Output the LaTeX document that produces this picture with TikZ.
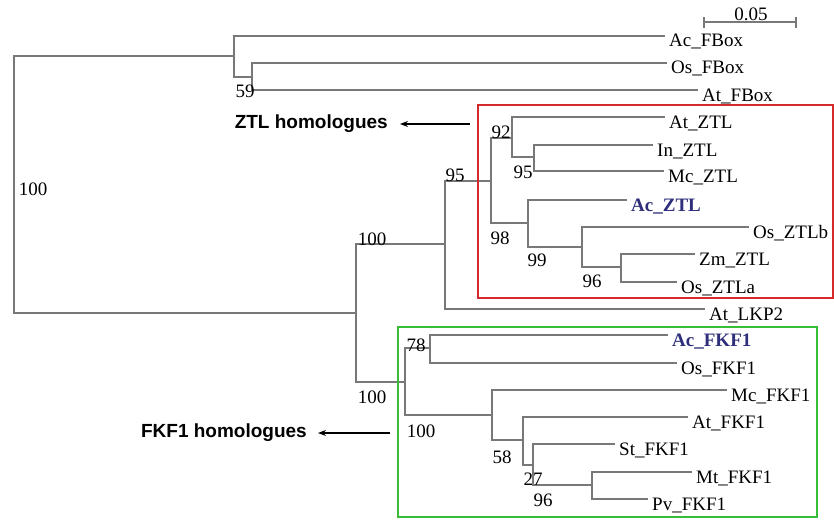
\documentclass[tikz,border=0pt]{standalone}
\usepackage{fontspec}
\setmainfont{Liberation Serif}
\newfontfamily\headfont{Liberation Sans}
\usetikzlibrary{arrows.meta}
\definecolor{branchgray}{rgb}{0.47,0.47,0.47}
\definecolor{boxred}{rgb}{0.84,0.16,0.16}
\definecolor{boxgreen}{rgb}{0.22,0.74,0.22}
\definecolor{acblue}{rgb}{0.18,0.18,0.48}

\begin{document}
\begin{tikzpicture}[x=1pt, y=-1pt, >={Stealth[length=8pt, width=6pt]},
  branch/.style={draw=branchgray, line width=1.1pt},
  leaf/.style={anchor=base west, inner sep=0pt, xshift=4pt, yshift=-11pt, font=\fontsize{19}{21}\selectfont},
  acleaf/.style={leaf, text=acblue, font=\bfseries\fontsize{19}{21}\selectfont},
  boot/.style={inner sep=0pt, font=\fontsize{19}{21}\selectfont},
  clade/.style={inner sep=0pt, font=\headfont\bfseries\fontsize{19}{21}\selectfont}]
  \useasboundingbox (0,0) rectangle (834,519);
  % internal nodes
  \coordinate (root) at (14,185);
  \coordinate (nA) at (234,56);
  \coordinate (nB) at (252,77);
  \coordinate (nC) at (356,313);
  \coordinate (nD) at (445,244);
  \coordinate (nE) at (491,181);
  \coordinate (nF) at (512,138);
  \coordinate (nG) at (534,157);
  \coordinate (nH) at (528,223);
  \coordinate (nI) at (582,247);
  \coordinate (nJ) at (621,267);
  \coordinate (nK) at (405,382);
  \coordinate (nL) at (430,348);
  \coordinate (nM) at (492,415);
  \coordinate (nN) at (523,440);
  \coordinate (nO) at (533,465);
  \coordinate (nP) at (592,485);
  % leaf ends
  \coordinate (AcFBox) at (665,36);
  \coordinate (OsFBox) at (667,63);
  \coordinate (AtFBox) at (698,90);
  \coordinate (AtZTL) at (665,117);
  \coordinate (InZTL) at (653,145);
  \coordinate (McZTL) at (664,171);
  \coordinate (AcZTL) at (627,200);
  \coordinate (OsZTLb) at (749,227);
  \coordinate (ZmZTL) at (695,254);
  \coordinate (OsZTLa) at (677,282);
  \coordinate (AtLKP2) at (705,309);
  \coordinate (AcFKF1) at (668,335);
  \coordinate (OsFKF1) at (677,363);
  \coordinate (McFKF1) at (727,390);
  \coordinate (AtFKF1) at (688,417);
  \coordinate (StFKF1) at (615,444);
  \coordinate (MtFKF1) at (692,472);
  \coordinate (PvFKF1) at (648,499);
  % F-box outgroup
  \draw[branch] (root) |- (nA);
  \draw[branch] (nA) |- (AcFBox);
  \draw[branch] (nA) |- (nB);
  \draw[branch] (nB) |- (OsFBox);
  \draw[branch] (nB) |- (AtFBox);
  % ZTL / LKP2 clade
  \draw[branch] (root) |- (nC);
  \draw[branch] (nC) |- (nD);
  \draw[branch] (nD) |- (nE);
  \draw[branch] (nD) |- (AtLKP2);
  \draw[branch] (nE) |- (nF);
  \draw[branch] (nF) |- (AtZTL);
  \draw[branch] (nF) |- (nG);
  \draw[branch] (nG) |- (InZTL);
  \draw[branch] (nG) |- (McZTL);
  \draw[branch] (nE) |- (nH);
  \draw[branch] (nH) |- (AcZTL);
  \draw[branch] (nH) |- (nI);
  \draw[branch] (nI) |- (OsZTLb);
  \draw[branch] (nI) |- (nJ);
  \draw[branch] (nJ) |- (ZmZTL);
  \draw[branch] (nJ) |- (OsZTLa);
  % FKF1 clade
  \draw[branch] (nC) |- (nK);
  \draw[branch] (nK) |- (nL);
  \draw[branch] (nL) |- (AcFKF1);
  \draw[branch] (nL) |- (OsFKF1);
  \draw[branch] (nK) |- (nM);
  \draw[branch] (nM) |- (McFKF1);
  \draw[branch] (nM) |- (nN);
  \draw[branch] (nN) |- (AtFKF1);
  \draw[branch] (nN) |- (nO);
  \draw[branch] (nO) |- (StFKF1);
  \draw[branch] (nO) |- (nP);
  \draw[branch] (nP) |- (MtFKF1);
  \draw[branch] (nP) |- (PvFKF1);
  % leaf names
  \node[leaf] (tAcFBox) at (AcFBox) {Ac\_FBox};
  \node[leaf] (tOsFBox) at (OsFBox) {Os\_FBox};
  \node[leaf] (tAtFBox) at (AtFBox) {At\_FBox};
  \node[leaf] (tAtZTL) at (AtZTL) {At\_ZTL};
  \node[leaf] (tInZTL) at (InZTL) {In\_ZTL};
  \node[leaf] (tMcZTL) at (McZTL) {Mc\_ZTL};
  \node[acleaf] (tAcZTL) at (AcZTL) {Ac\_ZTL};
  \node[leaf] (tOsZTLb) at (OsZTLb) {Os\_ZTLb};
  \node[leaf] (tZmZTL) at (ZmZTL) {Zm\_ZTL};
  \node[leaf] (tOsZTLa) at (OsZTLa) {Os\_ZTLa};
  \node[leaf] (tAtLKP2) at (AtLKP2) {At\_LKP2};
  \node[acleaf] (tAcFKF1) at (AcFKF1) {Ac\_FKF1};
  \node[leaf] (tOsFKF1) at (OsFKF1) {Os\_FKF1};
  \node[leaf] (tMcFKF1) at (McFKF1) {Mc\_FKF1};
  \node[leaf] (tAtFKF1) at (AtFKF1) {At\_FKF1};
  \node[leaf] (tStFKF1) at (StFKF1) {St\_FKF1};
  \node[leaf] (tMtFKF1) at (MtFKF1) {Mt\_FKF1};
  \node[leaf] (tPvFKF1) at (PvFKF1) {Pv\_FKF1};
  % bootstrap values
  \node[boot] (bB) at (245,91) {59};
  \node[boot] (bC) at (33,189) {100};
  \node[boot] (bD) at (372,239) {100};
  \node[boot] (bE) at (455,175) {95};
  \node[boot] (bF) at (501,132) {92};
  \node[boot] (bG) at (523,172) {95};
  \node[boot] (bH) at (500,238) {98};
  \node[boot] (bI) at (537,260) {99};
  \node[boot] (bJ) at (592,281) {96};
  \node[boot] (bK) at (372,397) {100};
  \node[boot] (bL) at (416,345) {78};
  \node[boot] (bM) at (421,431) {100};
  \node[boot] (bN) at (502,457) {58};
  \node[boot] (bO) at (533,479) {27};
  \node[boot] (bP) at (543,500) {96};
  % scale bar
  \coordinate (sbL) at (704,22);
  \coordinate (sbR) at (796,22);
  \draw[branch] (sbL) -- (sbR);
  \draw[branch] ([yshift=5pt]sbL) -- ([yshift=-6pt]sbL);
  \draw[branch] ([yshift=5pt]sbR) -- ([yshift=-6pt]sbR);
  \node[boot, anchor=base] (sbText) at (751,21) {0.05};
  % clade boxes
  \draw[boxred, line width=2pt] (478,105) rectangle (833,298);
  \draw[boxgreen, line width=2pt] (398,327) rectangle (817,517);
  % clade labels
  \node[clade, anchor=east] (ztl) at (388,124) {ZTL homologues};
  \coordinate (ztlTail) at (470,124);
  \draw[->, line width=1.1pt, shorten >=12pt] (ztlTail) -- (ztl.east);
  \node[clade, anchor=east] (fkf) at (307,433) {FKF1 homologues};
  \coordinate (fkfTail) at (390,433);
  \draw[->, line width=1.1pt, shorten >=11pt] (fkfTail) -- (fkf.east);
\end{tikzpicture}
\end{document}
